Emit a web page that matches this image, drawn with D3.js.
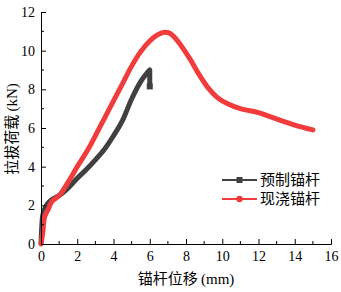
<!DOCTYPE html>
<html>
<head>
<meta charset="utf-8">
<script src="https://cdn.jsdelivr.net/npm/d3@7"></script>
<style>
  body { margin: 0; background: #fff; }
  text { font-family: "Liberation Serif", "Times New Roman", "Noto Sans CJK SC", serif; }
  .cjk { font-family: "Noto Sans CJK SC", sans-serif; }
</style>
</head>
<body>
<svg id="chart" width="341" height="292"></svg>
<script>
// 预制锚杆 (x: mm, y: kN)
const precastX = [0, 0.05, 0.1, 0.3, 0.6, 1, 1.5, 2, 2.5, 3, 3.5, 4, 4.5, 5, 5.5, 5.9, 6, 6];
const precastY = [0, 1.0, 1.5, 2.0, 2.3, 2.5, 2.9, 3.4, 3.85, 4.35, 4.9, 5.6, 6.4, 7.5, 8.4, 8.9, 9.0, 8.15];
// 现浇锚杆
const castX = [0, 0.1, 0.2, 0.4, 0.6, 1, 1.5, 2, 2.6, 3, 3.5, 4, 4.5, 5, 5.5, 6, 6.4, 6.8, 7.1, 7.5, 8.2, 8.7, 9.2, 9.7, 10.3, 11, 12, 12.6, 13.2, 14, 15];
const castY = [0, 0.6, 1.4, 1.8, 2.2, 2.5, 3.2, 4.0, 4.9, 5.6, 6.5, 7.4, 8.3, 9.2, 9.95, 10.5, 10.8, 10.95, 10.9, 10.55, 9.6, 8.8, 8.1, 7.6, 7.25, 7.0, 6.8, 6.6, 6.4, 6.15, 5.9];

const seriesNames = ['预制锚杆', '现浇锚杆'];
const seriesColors = ['#404040', '#f03c3c'];
const xTicks = [0, 2, 4, 6, 8, 10, 12, 14, 16];
const yTicks = [0, 2, 4, 6, 8, 10, 12];

const svg = d3.select('#chart');
const x = d3.scaleLinear().domain([0, 16]).range([41, 331]);
const y = d3.scaleLinear().domain([0, 12]).range([244, 12]);

const line = d3.line().x(d => x(d[0])).y(d => y(d[1])).curve(d3.curveCatmullRom.alpha(0.5));
const lineRaw = d3.line().x(d => x(d[0])).y(d => y(d[1]));

const precast = precastX.map((v, i) => [v, precastY[i]]);
const cast = castX.map((v, i) => [v, castY[i]]);

// 数据线
svg.append('path')
  .attr('d', line(precast.slice(0, -1)) + lineRaw(precast.slice(-2)).replace(/^M/, 'L'))
  .attr('fill', 'none')
  .attr('stroke', seriesColors[0])
  .attr('stroke-width', 5)
  .attr('stroke-linejoin', 'round');
svg.append('rect')
  .attr('x', x(6) - 3).attr('y', y(8.15) - 3)
  .attr('width', 6).attr('height', 6)
  .attr('fill', seriesColors[0]);

svg.append('path')
  .attr('d', line(cast))
  .attr('fill', 'none')
  .attr('stroke', seriesColors[1])
  .attr('stroke-width', 5)
  .attr('stroke-linejoin', 'round')
  .attr('stroke-linecap', 'round');

// 坐标轴 (刻度朝内)
const xAxis = svg.append('g')
  .attr('transform', `translate(0,${y(0)})`)
  .call(d3.axisBottom(x).tickValues(xTicks).tickSize(-5).tickPadding(7).tickFormat(d3.format('d')));
const yAxis = svg.append('g')
  .attr('transform', `translate(${x(0)},0)`)
  .call(d3.axisLeft(y).tickValues(yTicks).tickSize(-5).tickPadding(6).tickFormat(d3.format('d')));

[xAxis, yAxis].forEach(g => {
  g.select('.domain').attr('stroke', '#000');
  g.selectAll('.tick line').attr('stroke', '#000');
  g.selectAll('.tick text')
    .attr('fill', '#000')
    .style('font-size', '14px')
    .style('font-family', '"Liberation Serif", serif');
});

// 次刻度
svg.append('g').selectAll('line')
  .data(d3.range(1, 16, 2))
  .join('line')
  .attr('x1', d => x(d)).attr('x2', d => x(d))
  .attr('y1', y(0)).attr('y2', y(0) - 3)
  .attr('stroke', '#000');
svg.append('g').selectAll('line')
  .data(d3.range(1, 12, 2))
  .join('line')
  .attr('x1', x(0)).attr('x2', x(0) + 3)
  .attr('y1', d => y(d)).attr('y2', d => y(d))
  .attr('stroke', '#000');

// 轴标题
const xt = svg.append('text')
  .attr('x', 186).attr('y', 284)
  .attr('text-anchor', 'middle')
  .style('font-size', '15px');
xt.append('tspan').attr('class', 'cjk').text('锚杆位移 ');
xt.append('tspan').text('(mm)');
const yt = svg.append('text')
  .attr('transform', 'translate(17,129) rotate(-90)')
  .attr('text-anchor', 'middle')
  .style('font-size', '15px');
yt.append('tspan').attr('class', 'cjk').text('拉拔荷载 ');
yt.append('tspan').text('(kN)');

// 图例
const legend = svg.append('g');
seriesNames.forEach((name, i) => {
  const ly = 180 + i * 19;
  legend.append('line')
    .attr('x1', 222).attr('x2', 257)
    .attr('y1', ly).attr('y2', ly)
    .attr('stroke', seriesColors[i]).attr('stroke-width', 2);
  if (i === 0) {
    legend.append('rect').attr('x', 236.5).attr('y', ly - 3).attr('width', 6).attr('height', 6).attr('fill', seriesColors[i]);
  } else {
    legend.append('circle').attr('cx', 239.5).attr('cy', ly).attr('r', 3.2).attr('fill', seriesColors[i]);
  }
  legend.append('text')
    .attr('class', 'cjk')
    .attr('x', 260).attr('y', ly)
    .attr('dy', '0.35em')
    .style('font-size', '15px')
    .text(name);
});
</script>
</body>
</html>
